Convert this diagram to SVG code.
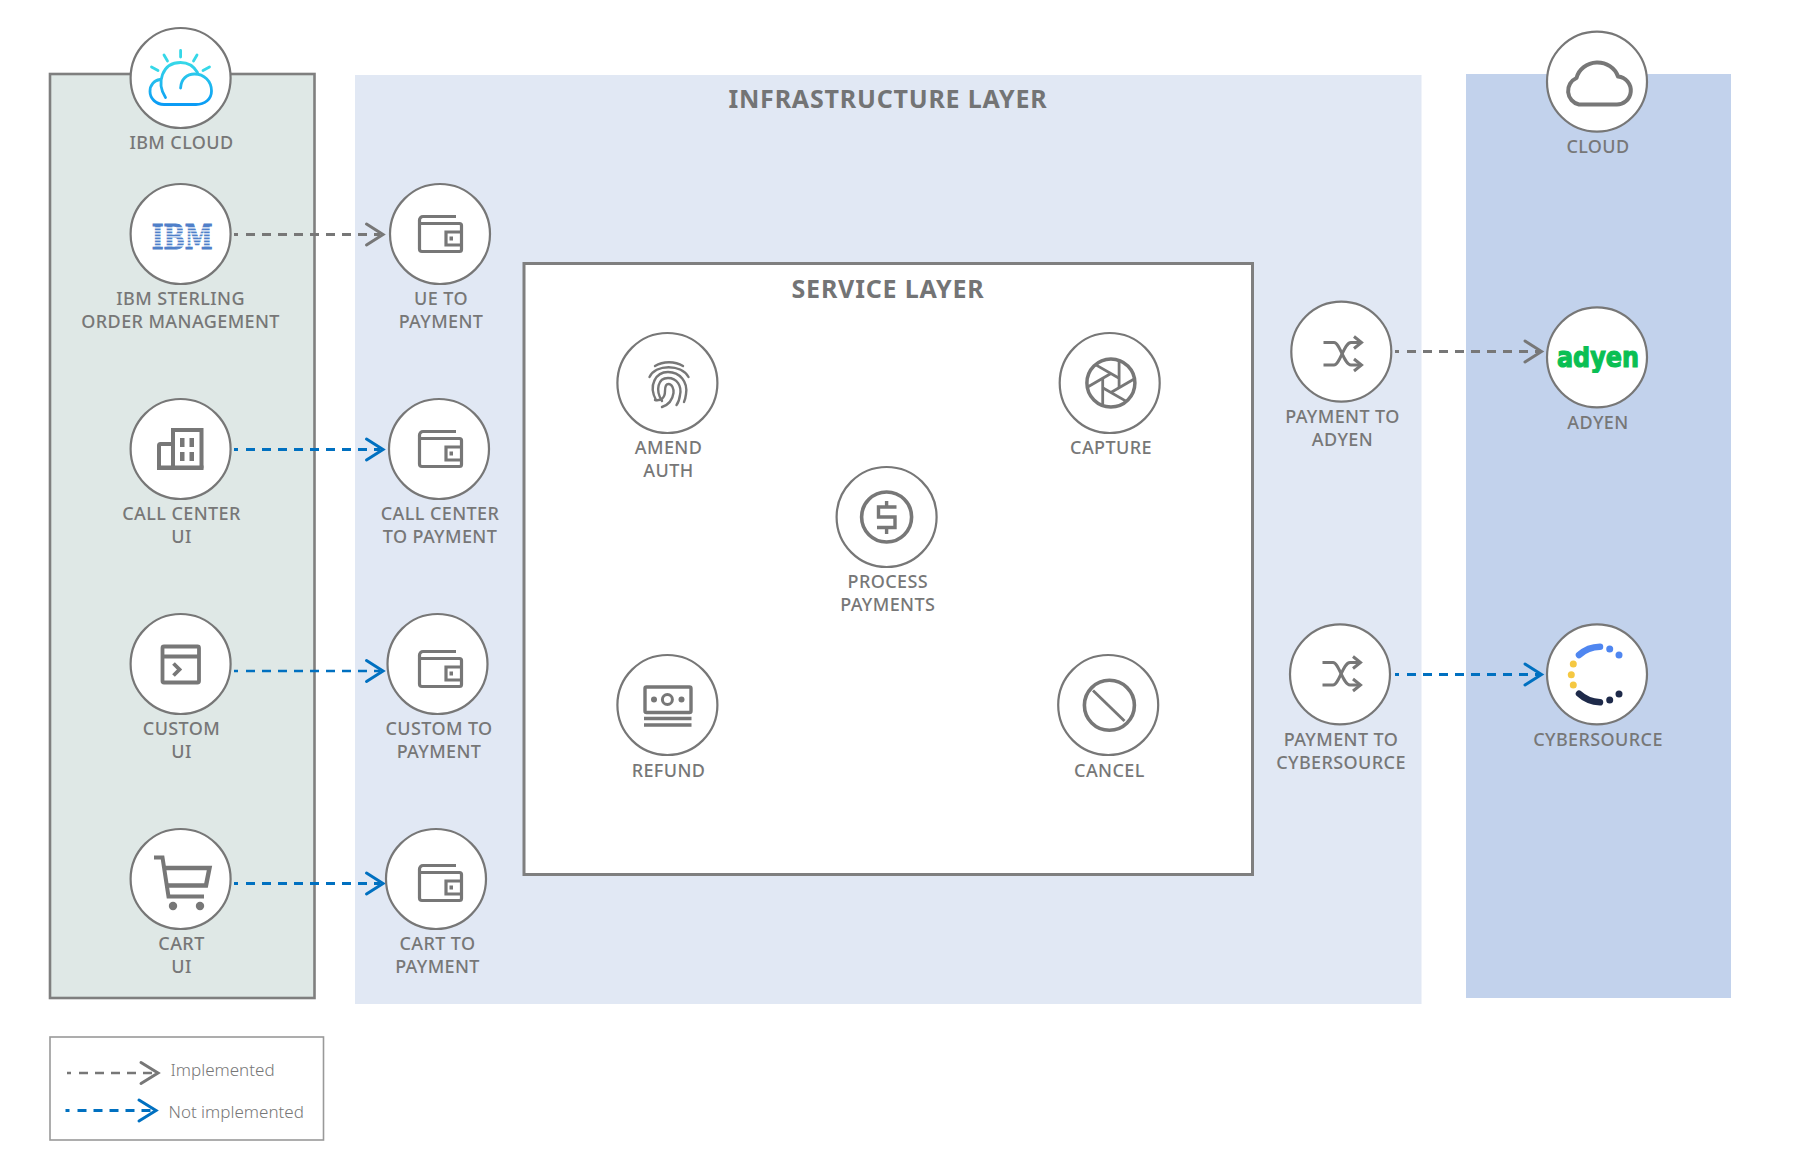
<svg xmlns="http://www.w3.org/2000/svg" width="1805" height="1163" viewBox="0 0 1805 1163">
<style>
.lb{font-family:"Noto Sans","Liberation Sans",sans-serif;font-size:18px;font-weight:500;letter-spacing:.4px;fill:#777;text-anchor:middle}
.tt{font-family:"Noto Sans","Liberation Sans",sans-serif;font-size:25px;font-weight:700;letter-spacing:.8px;fill:#737475;text-anchor:middle}
.lg{font-family:"Noto Sans","Liberation Sans",sans-serif;font-size:17px;font-weight:300;fill:#777}
.c{fill:#fff;stroke:#777;stroke-width:2.200}
.i{fill:none;stroke:#777;stroke-width:3.400}
.gl{fill:none;stroke:#777;stroke-width:3;stroke-dasharray:4 8 9 7 9 7 9 7 9 7 9 7 9 7 9 7 9 7 9 7 9 7}
.bl{fill:none;stroke:#0070c0;stroke-width:3;stroke-dasharray:4 8 9 7 9 7 9 7 9 7 9 7 9 7 9 7 9 7 9 7 9 7}
.h{fill:none;stroke-width:3;stroke-linecap:round;stroke-linejoin:miter}
</style>
<defs>
<linearGradient id="cg" gradientUnits="userSpaceOnUse" x1="180" y1="62" x2="180" y2="105"><stop offset="0" stop-color="#36d8e8"/><stop offset="1" stop-color="#0a9bf5"/></linearGradient>
<clipPath id="ad"><rect x="1550" y="346" width="95" height="27"/></clipPath>
<g id="wallet" fill="none" stroke="#777" stroke-width="3.200">
<path d="M38 1.500H5A3.500 3.500 0 0 0 1.500 5V34A2.500 2.500 0 0 0 4 36.500H41.500A2 2 0 0 0 43.500 34.500V10.500A2 2 0 0 0 41.500 8.500H1.500"/>
<path d="M43.500 17H28V30H43.500"/>
<rect x="31.500" y="21.500" width="3.500" height="4" fill="#777" stroke="none"/>
</g>
<g id="shuffle" fill="none" stroke="#777" stroke-width="3" stroke-linejoin="miter">
<path d="M1323.500 342.500H1334C1340 342.500 1344 365 1351 365H1361"/>
<path d="M1323.500 365H1334C1340 365 1344 342.500 1351 342.500H1361"/>
<path d="M1354 336.500L1361.500 342.500L1354 348.500M1354 359L1361.500 365L1354 371"/>
</g>
</defs>

<g id="panels">
<rect x="50" y="74" width="264.500" height="924" fill="#dfe8e6" stroke="#7f7f7f" stroke-width="2.600"/>
<rect x="355" y="75" width="1066.500" height="929" fill="#e1e8f4"/>
<rect x="1466" y="74" width="265" height="924" fill="#c2d2ec"/>
<rect x="524" y="263.500" width="728.500" height="611" fill="#fff" stroke="#7f7f7f" stroke-width="3"/>
<text class="tt" x="888" y="107.700">INFRASTRUCTURE LAYER</text>
<text class="tt" x="888" y="297.700">SERVICE LAYER</text>
</g>

<g id="connectors">
<path class="gl" d="M234 234.500H380"/><path class="h" stroke="#777" d="M366.500 224L383 234.500L366.500 245"/>
<path class="bl" d="M234 449.500H380"/><path class="h" stroke="#0070c0" d="M366.500 439L383 449.500L366.500 460"/>
<path class="bl" style="stroke-width:2.400" d="M234 671H380"/><path class="h" stroke="#0070c0" d="M366.500 660.500L383 671L366.500 681.500"/>
<path class="bl" d="M234 883.500H380"/><path class="h" stroke="#0070c0" d="M366.500 873L383 883.500L366.500 894"/>
<path class="gl" d="M1395 351.500H1539"/><path class="h" stroke="#777" d="M1525 341L1541.500 351.500L1525 362"/>
<path class="bl" d="M1395 674.500H1539"/><path class="h" stroke="#0070c0" d="M1525 664L1541.500 674.500L1525 685"/>
</g>

<g id="n-ibmcloud">
<circle class="c" cx="180.600" cy="78" r="50"/>
<g fill="none" stroke="#36d8e8" stroke-width="2.800" stroke-linecap="round"><path d="M180.600 50.500V57M164 55L167.500 61M197 55L193.500 61M151.500 67L158 70.500M209.500 67L203 70.500"/></g>
<g fill="none" stroke="url(#cg)" stroke-width="2.800" stroke-linecap="round">
<path d="M165.500 97.500C156 83 162 62.500 180.500 62.500C188 62.500 194 66.500 197.500 72.500"/>
<path d="M180.600 88C181 79 187 74 194.500 74C204 74 211.500 81 211.500 91C211.500 99 205 104.500 196 104.500H164C156 104.500 150 98.500 150 91.500C150 85 154 80.500 160 79.500"/>
</g>
<text class="lb" x="181.500" y="148.500">IBM CLOUD</text>
</g>

<g id="n-sterling">
<circle class="c" cx="180.600" cy="234" r="50"/>
<text x="182.200" y="249.300" text-anchor="middle" textLength="61" lengthAdjust="spacingAndGlyphs" font-family="DejaVu Serif,Liberation Serif,serif" font-weight="700" font-size="33" fill="#4f7fc9" stroke="#4f7fc9" stroke-width="1">IBM</text>
<g fill="#fff"><rect x="150" y="227.300" width="64" height="1.200"/><rect x="150" y="230.300" width="64" height="1.200"/><rect x="150" y="233.300" width="64" height="1.200"/><rect x="150" y="236.300" width="64" height="1.200"/><rect x="150" y="239.300" width="64" height="1.200"/><rect x="150" y="242.300" width="64" height="1.200"/><rect x="150" y="245.300" width="64" height="1.200"/></g>
<text class="lb" x="180.600" y="304.500">IBM STERLING</text><text class="lb" x="180.600" y="327.500">ORDER MANAGEMENT</text>
</g>

<g id="n-ue">
<circle class="c" cx="440" cy="234" r="50"/>
<use href="#wallet" x="418" y="215"/>
<text class="lb" x="441" y="304.500">UE TO</text><text class="lb" x="441" y="327.500">PAYMENT</text>
</g>

<g id="n-callcenter">
<circle class="c" cx="180.600" cy="449" r="50"/>
<path class="i" style="stroke-width:4" d="M173 468.500V430H201.500V468.500"/>
<path class="i" style="stroke-width:4" d="M173 444H160.500A1.500 1.500 0 0 0 159 445.500V468"/>
<rect x="157" y="465.500" width="46.500" height="4.500" fill="#777"/>
<g fill="#777"><rect x="180" y="438" width="4.500" height="9"/><rect x="189.500" y="438" width="4.500" height="9"/><rect x="180" y="452" width="4.500" height="9"/><rect x="189.500" y="452" width="4.500" height="9"/></g>
<text class="lb" x="181.500" y="520">CALL CENTER</text><text class="lb" x="181.500" y="543">UI</text>
</g>

<g id="n-callpay">
<circle class="c" cx="439" cy="449" r="50"/>
<use href="#wallet" x="418" y="430"/>
<text class="lb" x="440" y="520">CALL CENTER</text><text class="lb" x="440" y="543">TO PAYMENT</text>
</g>

<g id="n-custom">
<circle class="c" cx="180.600" cy="664" r="50"/>
<rect class="i" style="stroke-width:3.800" x="162.500" y="646.500" width="36.500" height="36" rx="1.500"/>
<path class="i" style="stroke-width:3.800" d="M162.500 656.500H199M173.500 663.500L179.500 669.500L173.500 675.500"/>
<text class="lb" x="181.500" y="734.500">CUSTOM</text><text class="lb" x="181.500" y="757.500">UI</text>
</g>

<g id="n-custompay">
<circle class="c" cx="437.500" cy="664" r="50"/>
<use href="#wallet" x="418" y="650"/>
<text class="lb" x="439" y="734.500">CUSTOM TO</text><text class="lb" x="439" y="757.500">PAYMENT</text>
</g>

<g id="n-cart">
<circle class="c" cx="180.600" cy="879" r="50"/>
<path class="i" style="stroke-width:4" d="M154 857.500H162.500L168.500 896.500H204"/>
<path class="i" style="stroke-width:4.400" d="M163 868H209.500L206 885.500H165.500"/>
<circle cx="173" cy="906" r="4.200" fill="#777"/><circle cx="200" cy="906" r="4.200" fill="#777"/>
<text class="lb" x="181.500" y="950">CART</text><text class="lb" x="181.500" y="973">UI</text>
</g>

<g id="n-cartpay">
<circle class="c" cx="436" cy="879" r="50"/>
<use href="#wallet" x="418" y="864"/>
<text class="lb" x="437.500" y="950">CART TO</text><text class="lb" x="437.500" y="973">PAYMENT</text>
</g>

<g id="n-amend">
<circle class="c" cx="667.400" cy="383" r="50"/>
<g fill="none" stroke="#777" stroke-width="2.400" stroke-linecap="round">
<path d="M655 366C663 361 675 361 683 366"/>
<path d="M649.500 377C656 364 681 364 688.500 377"/>
<path d="M656 400C648 385 656 372 668 372C680 372 688 382 686 394C685.500 398 685 400 684 402"/>
<path d="M662 401C655 390 658 378 668 378C677 378 682 386 680 395C679.500 399 678 403 676.500 405"/>
<path d="M655 400C661 401 665 398 665 391C665 386 666 384 668.500 384C672 384 674 389 673.500 393C672.500 400 668 405 662 407"/>
</g>
<text class="lb" x="668.500" y="454">AMEND</text><text class="lb" x="668.500" y="477">AUTH</text>
</g>

<g id="n-capture">
<circle class="c" cx="1109.700" cy="383" r="50"/>
<g transform="translate(1110.900 383)" fill="none" stroke="#777">
<circle r="24" stroke-width="3.500"/>
<g stroke-width="2.800"><line x1="-8.200" y1="22.600" x2="-8.200" y2="-4.750"/><line x1="-8.200" y1="22.600" x2="-8.200" y2="-4.750" transform="rotate(60)"/><line x1="-8.200" y1="22.600" x2="-8.200" y2="-4.750" transform="rotate(120)"/><line x1="-8.200" y1="22.600" x2="-8.200" y2="-4.750" transform="rotate(180)"/><line x1="-8.200" y1="22.600" x2="-8.200" y2="-4.750" transform="rotate(240)"/><line x1="-8.200" y1="22.600" x2="-8.200" y2="-4.750" transform="rotate(300)"/></g>
</g>
<text class="lb" x="1111" y="454">CAPTURE</text>
</g>

<g id="n-process">
<circle class="c" cx="886.600" cy="517" r="50"/>
<circle class="i" cx="886.600" cy="517" r="25" style="stroke-width:3.600"/>
<path class="i" d="M896.500 507H878.500V517H895V527.500H877M886.600 501V507M886.600 527.500V534"/>
<text class="lb" x="887.800" y="588">PROCESS</text><text class="lb" x="887.800" y="611">PAYMENTS</text>
</g>

<g id="n-refund">
<circle class="c" cx="667.400" cy="705" r="50"/>
<rect class="i" x="645" y="687" width="46" height="25.500" rx="1.500"/>
<circle class="i" cx="667.400" cy="699.500" r="5" style="stroke-width:3"/>
<circle cx="654" cy="699.500" r="3" fill="#777"/><circle cx="681.500" cy="699.500" r="3" fill="#777"/>
<path class="i" d="M644 718.500H691.500M644 725H691.500"/>
<text class="lb" x="668.500" y="776.500">REFUND</text>
</g>

<g id="n-cancel">
<circle class="c" cx="1108.200" cy="705" r="50"/>
<circle class="i" cx="1109.400" cy="705.300" r="25" style="stroke-width:3.600"/>
<path class="i" d="M1093 690.500L1124.500 721" style="stroke-width:2.800"/>
<text class="lb" x="1109.400" y="776.500">CANCEL</text>
</g>

<g id="n-payadyen">
<circle class="c" cx="1341.300" cy="351.700" r="50"/>
<use href="#shuffle"/>
<text class="lb" x="1342.500" y="422.500">PAYMENT TO</text><text class="lb" x="1342.500" y="446">ADYEN</text>
</g>

<g id="n-paycyber">
<circle class="c" cx="1340" cy="674.300" r="50"/>
<use href="#shuffle" x="-1" y="320"/>
<text class="lb" x="1341" y="746">PAYMENT TO</text><text class="lb" x="1341" y="769">CYBERSOURCE</text>
</g>

<g id="n-cloud">
<circle class="c" cx="1597" cy="81.700" r="50"/>
<path fill="none" stroke="#777" stroke-width="4" stroke-linejoin="round" d="M1579 104.500H1615.500A14 14 0 0 0 1618 76.500A21.500 20 0 0 0 1576.500 78A14 14 0 0 0 1579 104.500Z"/>
<text class="lb" x="1598" y="152.500">CLOUD</text>
</g>

<g id="n-adyen">
<circle class="c" cx="1597" cy="357.300" r="50"/>
<g clip-path="url(#ad)"><text x="1598" y="367.300" text-anchor="middle" textLength="82" lengthAdjust="spacingAndGlyphs" font-family="DejaVu Sans,sans-serif" font-weight="700" font-size="28" fill="#0abf53" stroke="#0abf53" stroke-width="1.200">adyen</text></g>
<text class="lb" x="1598" y="429">ADYEN</text>
</g>

<g id="n-cyber">
<circle class="c" cx="1597" cy="674.300" r="50"/>
<path d="M1579 655C1585 649.500 1592 646.800 1600 646.700" fill="none" stroke="#4f86f0" stroke-width="6.500" stroke-linecap="round"/>
<path d="M1579 693.700C1585 699.300 1592 702 1600 702.300" fill="none" stroke="#1e2a4a" stroke-width="6.500" stroke-linecap="round"/>
<g fill="#4f86f0"><circle cx="1609.700" cy="649" r="3.500"/><circle cx="1619" cy="655" r="3.500"/></g>
<g fill="#f5c842"><circle cx="1573.300" cy="664" r="3.500"/><circle cx="1571.300" cy="674.700" r="3.500"/><circle cx="1573.300" cy="685" r="3.500"/></g>
<g fill="#1e2a4a"><circle cx="1609.700" cy="700" r="3.500"/><circle cx="1619" cy="694" r="3.500"/></g>
<text class="lb" x="1598" y="746">CYBERSOURCE</text>
</g>

<g id="legend">
<rect x="50" y="1037" width="273.500" height="103" fill="#fff" stroke="#999" stroke-width="1.600"/>
<path class="gl" style="stroke-width:2.400" d="M67 1073H155"/><path class="h" stroke="#777" d="M141 1062.500L158 1073L141 1083.500"/>
<path class="bl" d="M65.500 1110.500H153"/><path class="h" stroke="#0070c0" d="M139 1100L156 1110.500L139 1121"/>
<text class="lg" x="170.500" y="1076">Implemented</text>
<text class="lg" x="168.500" y="1118">Not implemented</text>
</g>
</svg>
